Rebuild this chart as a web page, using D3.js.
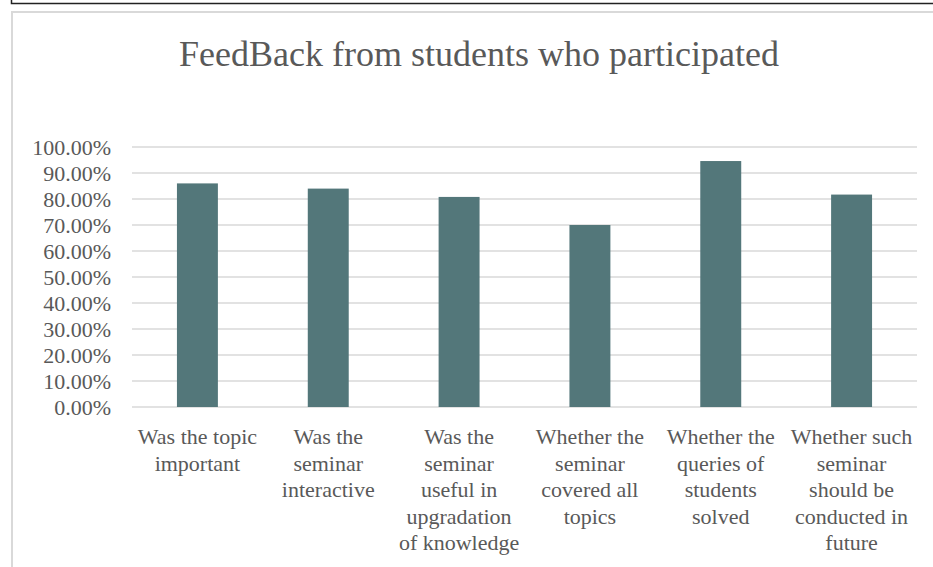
<!DOCTYPE html>
<html>
<head>
<meta charset="utf-8">
<script src="https://cdn.jsdelivr.net/npm/d3@7"></script>
<style>
  body { margin: 0; background: #fff; }
  text { font-family: "Liberation Serif", "Times New Roman", serif; }
</style>
</head>
<body>
<svg id="mainsvg" width="933" height="567"></svg>
<script>
// data
const categories = [
  ["Was the topic", "important"],
  ["Was the", "seminar", "interactive"],
  ["Was the", "seminar", "useful in", "upgradation", "of knowledge"],
  ["Whether the", "seminar", "covered all", "topics"],
  ["Whether the", "queries of", "students", "solved"],
  ["Whether such", "seminar", "should be", "conducted in", "future"]
];
const values = [0.86, 0.84, 0.808, 0.70, 0.946, 0.817];
const yTicks = [0, 0.1, 0.2, 0.3, 0.4, 0.5, 0.6, 0.7, 0.8, 0.9, 1.0];
const title = "FeedBack from students who participated";

const svg = d3.select('#mainsvg');
const myWidth = +svg.attr('width');
const myHeight = +svg.attr('height');

const margin = { top: 147, right: 16, bottom: 160, left: 132 };

// outer box remnant (black line at top)
svg.append("path")
  .attr("d", `M11.5,0 V3.5 H${myWidth}`)
  .attr("fill", "none")
  .attr("stroke", "#222")
  .attr("stroke-width", 1.5);

// chart border
svg.append("path")
  .attr("d", `M${myWidth},12 H12 V${myHeight}`)
  .attr("fill", "none")
  .attr("stroke", "#d9d9d9")
  .attr("stroke-width", 2);

// title
svg.append("text")
  .attr("x", 479)
  .attr("y", 66)
  .attr("text-anchor", "middle")
  .attr("font-size", 36)
  .attr("fill", "#595959")
  .text(title);

const x = d3.scaleBand()
  .domain(d3.range(categories.length))
  .range([margin.left, myWidth - margin.right])
  .padding(0);

const y = d3.scaleLinear()
  .domain([0, 1])
  .range([myHeight - margin.bottom, margin.top]);

// gridlines
svg.append("g")
  .selectAll("line")
  .data(yTicks)
  .join("line")
  .attr("x1", margin.left)
  .attr("x2", myWidth - margin.right)
  .attr("y1", d => y(d))
  .attr("y2", d => y(d))
  .attr("stroke", "#d9d9d9")
  .attr("stroke-width", 1.5);

// y axis labels
svg.append("g")
  .selectAll("text")
  .data(yTicks)
  .join("text")
  .attr("x", 111)
  .attr("y", d => y(d))
  .attr("dy", "0.35em")
  .attr("text-anchor", "end")
  .attr("font-size", 22)
  .attr("fill", "#595959")
  .text(d => d3.format(".2%")(d));

// bars
const barW = x.bandwidth() * 0.313;
svg.append("g")
  .selectAll("rect")
  .data(values)
  .join("rect")
  .attr("x", (d, i) => x(i) + x.bandwidth() / 2 - barW / 2)
  .attr("y", d => y(d))
  .attr("width", barW)
  .attr("height", d => y(0) - y(d))
  .attr("fill", "#53777a");

// category labels
const lab = svg.append("g")
  .selectAll("text")
  .data(categories)
  .join("text")
  .attr("text-anchor", "middle")
  .attr("font-size", 22)
  .attr("fill", "#595959");

lab.selectAll("tspan")
  .data(d => d)
  .join("tspan")
  .attr("x", function () {
    const i = categories.indexOf(d3.select(this.parentNode).datum());
    return x(i) + x.bandwidth() / 2;
  })
  .attr("y", (d, j) => 444 + j * 26.6)
  .text(d => d);
</script>
</body>
</html>
